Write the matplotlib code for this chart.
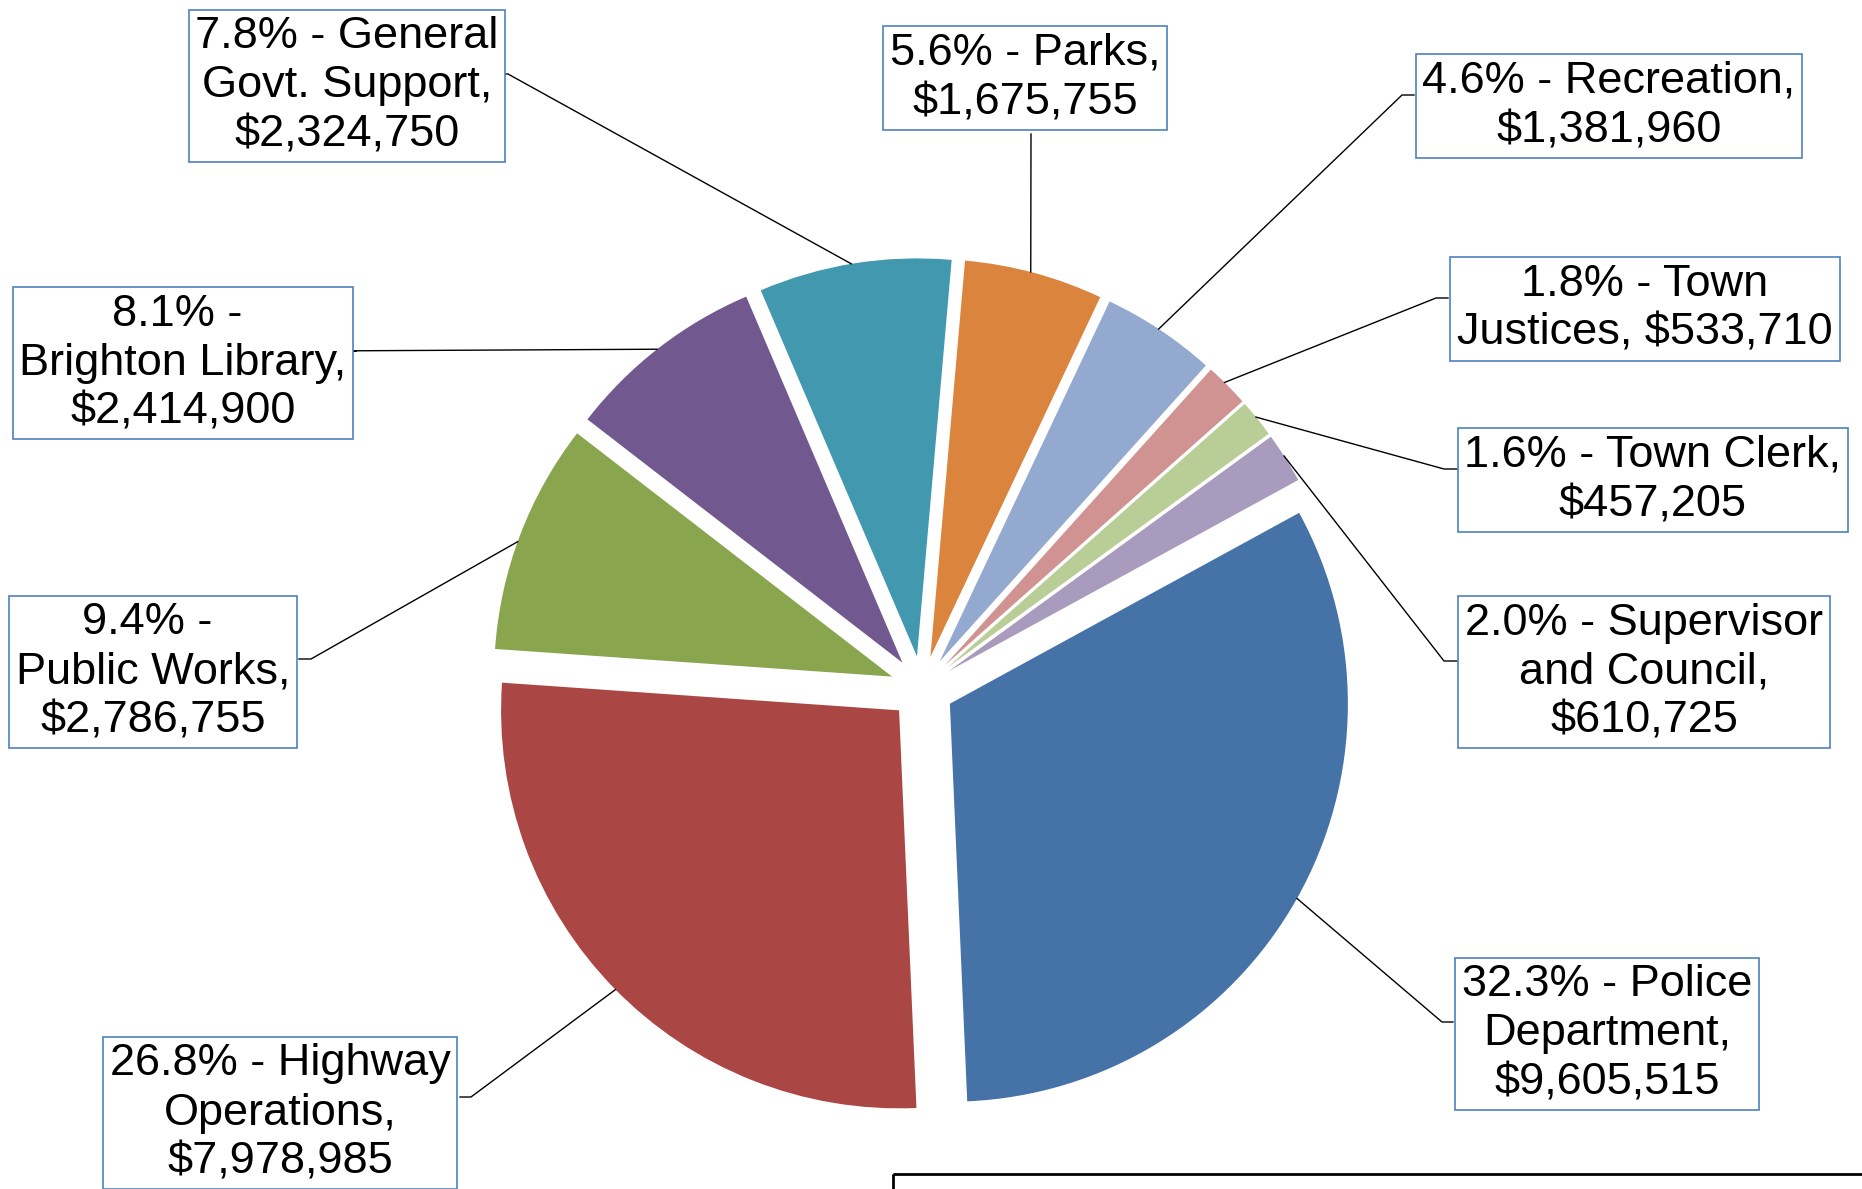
'''town budget pie chart with exploded slices and boxed labels'''
import math
import matplotlib
matplotlib.use('Agg')
import matplotlib.pyplot as plt
from matplotlib.patches import Rectangle

# data
depts = ['Parks', 'Recreation', 'Town Justices', 'Town Clerk',
         'Supervisor and Council', 'Police Department', 'Highway Operations',
         'Public Works', 'Brighton Library', 'General Govt. Support']
amounts = [1675755, 1381960, 533710, 457205, 610725,
           9605515, 7978985, 2786755, 2414900, 2324750]
pct_text = ['5.6%', '4.6%', '1.8%', '1.6%', '2.0%',
            '32.3%', '26.8%', '9.4%', '8.1%', '7.8%']
# department names as wrapped in the label boxes
wrapped = ['Parks,\n', 'Recreation,\n', 'Town\nJustices, ', 'Town Clerk,\n',
           'Supervisor\nand Council,\n', 'Police\nDepartment,\n',
           'Highway\nOperations,\n', '\nPublic Works,\n',
           '\nBrighton Library,\n', 'General\nGovt. Support,\n']
colors = ['#DB843D', '#93A9CF', '#D19392', '#B9CD96', '#A99BBD',
          '#4572A7', '#AA4643', '#89A54E', '#71588F', '#4198AF']

# layout (pixel coordinates, origin top-left)
W, H = 1862, 1189
label_xy = [(1025, 78), (1609, 106), (1645, 309), (1653, 480), (1644, 672),
            (1607, 1034), (280, 1113), (153, 672), (183, 363), (347, 86)]
leader_from = [(1031, 271), (1160, 327), (1225, 382), (1256, 417),
               (1284, 456), (1298, 899), (613, 992), (513, 540),
               (657, 349), (851, 262)]
leader_to = [[(1031, 134)],
             [(1402, 95), (1414, 95)],
             [(1436, 298), (1448, 298)],
             [(1444, 469), (1457, 469)],
             [(1444, 661), (1457, 661)],
             [(1442, 1022), (1453, 1022)],
             [(471, 1097), (460, 1097)],
             [(311, 659), (299, 659)],
             [(312, 351), (356, 351)],
             [(508, 74), (498, 74)]]

font = ['Liberation Sans Narrow', 'Arimo', 'Liberation Sans']

fig = plt.figure(figsize=(W / 100, H / 100), dpi=100)
ax = fig.add_axes([0, 0, 1, 1])

wedges, _ = ax.pie(amounts, colors=colors, startangle=-85, counterclock=True,
                   radius=398, center=(922, 688), explode=[32] * len(amounts),
                   wedgeprops=dict(linewidth=0))
ax.set_xlim(0, W)
ax.set_ylim(H, 0)
ax.set_aspect('equal')
ax.axis('off')

for i, w in enumerate(wedges):
    # snap leader start onto the wedge arc
    cx, cy = w.center
    px, py = leader_from[i]
    a = math.atan2(py - cy, px - cx)
    sx, sy = cx + w.r * math.cos(a), cy + w.r * math.sin(a)
    xs = [sx] + [p[0] for p in leader_to[i]]
    ys = [sy] + [p[1] for p in leader_to[i]]
    ax.plot(xs, ys, color='black', lw=1.0, zorder=3)

    txt = '%s - %s$%s' % (pct_text[i], wrapped[i], format(amounts[i], ','))
    ax.text(label_xy[i][0], label_xy[i][1], txt, ha='center', va='center',
            fontsize=32.5, family=font, linespacing=1.25, zorder=4,
            bbox=dict(boxstyle='square,pad=0.15', fc='white',
                      ec='#4F81BD', lw=1.2))

# frame of a box cut off at the bottom right
ax.add_patch(Rectangle((893, 1174), 1100, 100, fill=False, ec='black',
                       lw=2.0, clip_on=True, zorder=2))

fig.savefig('out.png', dpi=100)
